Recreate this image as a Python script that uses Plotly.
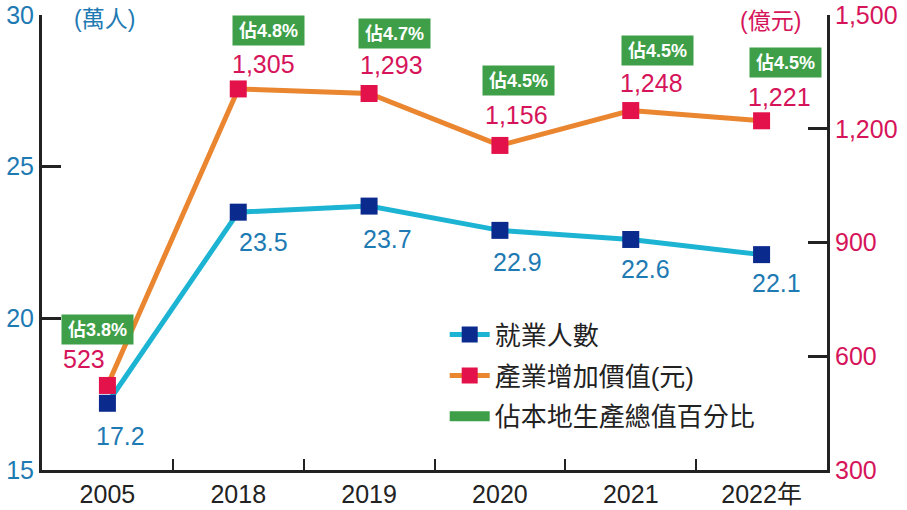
import plotly.graph_objects as go

# ---- data ----
years = ["2005", "2018", "2019", "2020", "2021", "2022年"]
employment = [17.2, 23.5, 23.7, 22.9, 22.6, 22.1]          # 萬人
value_added = [523, 1305, 1293, 1156, 1248, 1221]          # 億元
gdp_share = [3.8, 4.8, 4.7, 4.5, 4.5, 4.5]                 # %

series_names = ["就業人數", "產業增加價值(元)", "佔本地生產總值百分比"]

# ---- styles / label offsets (pixels) ----
BLUE_LINE = "#1db4d3"
BLUE_MARK = "#0b2a8d"
ORANGE_LINE = "#ea8530"
RED_MARK = "#e3124b"
GREEN = "#3e9f48"
BLUE_TXT = "#1e7ab3"
RED_TXT = "#d6145a"
AXIS = "#222222"
FONT = "Liberation Sans, Arial, Noto Sans CJK TC"

emp_dx = [13, 25, 18, 18, 15, 15]
emp_dy = [-33, -30, -33, -32, -30, -28]
val_dx = [-23, 25, 22, 17, 21, 18]
val_dy = [26, 25, 28, 30, 28, 24]
box_dx = [-10, 30, 25, 19, 27, 24]
box_dy = [56, 58, 60, 65, 60, 58]

fig = go.Figure()

fig.add_trace(go.Scatter(
    x=years, y=employment, name=series_names[0], yaxis="y",
    mode="lines+markers", legendgroup="a",
    line=dict(color=BLUE_LINE, width=5),
    marker=dict(symbol="square", size=17, color=BLUE_MARK),
))
fig.add_trace(go.Scatter(
    x=years, y=value_added, name=series_names[1], yaxis="y2",
    mode="lines+markers", legendgroup="b",
    line=dict(color=ORANGE_LINE, width=5),
    marker=dict(symbol="square", size=17, color=RED_MARK),
))
fig.add_trace(go.Scatter(
    x=[None], y=[None], name=series_names[2], yaxis="y2",
    mode="lines", legendgroup="c",
    line=dict(color=GREEN, width=20),
))

annotations = []
for i, yr in enumerate(years):
    annotations.append(dict(
        x=i, y=employment[i], xref="x", yref="y", text=f"{employment[i]:.1f}",
        showarrow=False, xshift=emp_dx[i], yshift=emp_dy[i],
        font=dict(family=FONT, size=25, color=BLUE_TXT)))
    annotations.append(dict(
        x=i, y=value_added[i], xref="x", yref="y2", text=f"{value_added[i]:,}",
        showarrow=False, xshift=val_dx[i], yshift=val_dy[i],
        font=dict(family=FONT, size=25, color=RED_TXT)))
    annotations.append(dict(
        x=i, y=value_added[i], xref="x", yref="y2", text=f"佔{gdp_share[i]:.1f}%",
        showarrow=False, xshift=box_dx[i], yshift=box_dy[i],
        bgcolor=GREEN, width=67, height=25, borderpad=2,
        font=dict(family="Liberation Sans Narrow, Liberation Sans, Noto Sans CJK TC",
                  size=18, color="white", weight="bold")))

annotations.append(dict(
    x=0.038, y=0.991, xref="paper", yref="paper", xanchor="left", yanchor="middle",
    text="(萬人)", showarrow=False, font=dict(family=FONT, size=23, color=BLUE_TXT)))
annotations.append(dict(
    x=0.969, y=0.987, xref="paper", yref="paper", xanchor="right", yanchor="middle",
    text="(億元)", showarrow=False, font=dict(family=FONT, size=23, color=RED_TXT)))

fig.update_layout(
    width=907, height=510,
    margin=dict(l=42, r=80, t=15, b=40, autoexpand=False),
    paper_bgcolor="white", plot_bgcolor="white",
    font=dict(family=FONT, color=AXIS),
    annotations=annotations,
    showlegend=True,
    legend=dict(
        x=0.513, y=0.349, xanchor="left", yanchor="top",
        font=dict(family=FONT, size=26, color=AXIS),
        bgcolor="rgba(0,0,0,0)", tracegroupgap=4, traceorder="grouped",
        itemwidth=40,
    ),
    xaxis=dict(
        type="category", range=[-0.5, 5.5], automargin=False,
        showline=True, linecolor=AXIS, linewidth=3,
        ticks="inside", tickson="boundaries", ticklen=11, tickwidth=2, tickcolor=AXIS,
        showgrid=False, zeroline=False,
        tickfont=dict(family=FONT, size=25, color=AXIS),
    ),
    yaxis=dict(
        range=[15, 30], tickvals=[15, 20, 25, 30], automargin=False,
        ticklabeloverflow="allow",
        showline=True, linecolor=AXIS, linewidth=3,
        ticks="inside", ticklen=19, tickwidth=2.5, tickcolor=AXIS,
        showgrid=False, zeroline=False,
        tickfont=dict(family=FONT, size=25, color=BLUE_TXT),
    ),
    yaxis2=dict(
        range=[300, 1500], tickvals=[300, 600, 900, 1200, 1500], tickformat=",",
        overlaying="y", side="right", automargin=False,
        ticklabeloverflow="allow",
        showline=True, linecolor=AXIS, linewidth=3,
        ticks="inside", ticklen=19, tickwidth=2.5, tickcolor=AXIS,
        showgrid=False, zeroline=False,
        tickfont=dict(family=FONT, size=25, color=RED_TXT),
    ),
)

# remove the page's default 8px body margin so the figure fills the window
fig.write_html("out.html", config={"displayModeBar": False},
               post_script="document.body.style.margin='0';")
